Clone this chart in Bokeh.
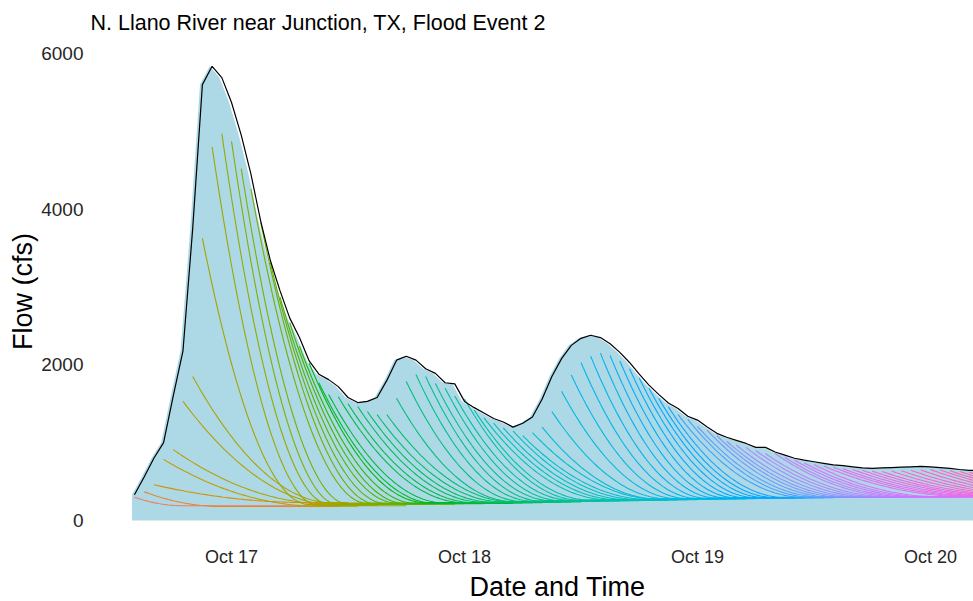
import numpy as np
import pandas as pd
from bokeh.plotting import figure
from bokeh.models import Range1d, FixedTicker, DatetimeTickFormatter, Title
from bokeh.embed import file_html
from bokeh.resources import INLINE

# ---------------------------------------------------------------------------
# Hourly observations, N. Llano River near Junction, TX (first value at 14:00)
# ---------------------------------------------------------------------------
series_start = "2018-10-16 14:00"

flow_cfs = [
    330, 560, 800, 1000, 1600, 2180, 3750, 5600, 5835, 5690,
    5370, 4950, 4450, 3850, 3340, 2950, 2600, 2350, 2050, 1880,
    1810, 1720, 1580, 1515, 1530, 1580, 1800, 2060, 2110, 2060,
    1950, 1890, 1770, 1755, 1530, 1450, 1380, 1310, 1265, 1200,
    1250, 1330, 1560, 1850, 2080, 2250, 2340, 2380, 2350, 2270,
    2160, 2030, 1880, 1740, 1620, 1510, 1440, 1340, 1290, 1200,
    1120, 1070, 1030, 990, 940, 940, 880, 840, 800, 775,
    755, 735, 715, 705, 690, 675, 670, 675, 680, 685,
    690, 695, 690, 680, 670, 655, 645, 640,
]

# Recession curves, one per hour: value at the first point of each curve
recession_start_cfs = [
    300, 370, 460, 785, 910, 1530, 1850, 3625, 4800, 4970,
    4870, 4520, 4260, 3830, 3310, 2870, 2540, 2240, 2020, 1770,
    1620, 1590, 1500, 1465, 1400, 1360, 1360, 1570, 1785, 1875,
    1850, 1760, 1700, 1600, 1560, 1420, 1320, 1250, 1190, 1150,
    1090, 1130, 1200, 1400, 1660, 1870, 2030, 2110, 2150, 2120,
    2050, 1950, 1830, 1700, 1570, 1460, 1360, 1300, 1210, 1160,
    1090, 1020, 970, 940, 900, 860, 860, 810, 775, 740,
    720, 700, 685, 665, 655, 645, 635, 630, 635, 640,
    645, 650, 655, 650, 640, 630, 620, 610,
]

# Level each recession curve settles on (baseflow)
recession_base_cfs = [
    190, 180, 230, 185, 215, 195, 225, 205, 190, 215,
    205, 210, 220, 210, 215, 225, 215, 220, 230, 220,
    225, 230, 230, 235, 235, 240, 240, 245, 245, 250,
    250, 255, 255, 260, 260, 262, 264, 266, 268, 270,
    272, 274, 276, 278, 280, 282, 284, 286, 288, 290,
    292, 293, 294, 295, 296, 297, 298, 299, 300, 300,
    301, 301, 302, 302, 303, 303, 304, 304, 305, 305,
    306, 307, 308, 309, 310, 311, 312, 313, 314, 315,
    316, 317, 318, 319, 320, 321, 322, 323,
]

# Hours each recession curve takes to fall to its baseflow
recession_span_h = [
    5, 8, 16, 16, 16, 16, 14.5, 11, 11, 11,
    11, 11, 12, 12, 12, 12, 12, 12, 12, 12,
    12, 13, 13, 13, 13, 13, 13, 12, 12, 12,
    12, 12, 12, 12, 12, 12, 13, 13, 13, 13,
    13, 13, 12, 12, 12, 12, 12, 12, 12, 12,
    12, 12, 12, 12, 12, 12, 13, 13, 13, 13,
    13, 13, 13, 13, 13, 13, 13, 13, 13, 13,
    13, 15, 15, 15, 15, 15, 15, 15, 15, 15,
    15, 15, 15, 15, 15, 15, 15, 15,
]

recession_length_h = 20          # every curve is drawn for 20 hours
date_ticks = ["2018-10-17", "2018-10-18", "2018-10-19", "2018-10-20"]
flow_ticks = [0, 2000, 4000, 6000]
x_limits = ["2018-10-16 09:16", "2018-10-20 04:26"]
y_limits = [-244, 6128]

# ---------------------------------------------------------------------------
HOUR_MS = 3600 * 1000.0


def to_ms(stamp):
    return pd.Timestamp(stamp).value / 1e6


def hcl_to_hex(h, c=100.0, l=65.0):
    """Polar-LUV colour (as used by ggplot's hue palette) to an sRGB hex."""
    hr = np.deg2rad(h)
    U, V = c * np.cos(hr), c * np.sin(hr)
    Xn, Yn, Zn = 95.047, 100.0, 108.883
    den = Xn + 15 * Yn + 3 * Zn
    un, vn = 4 * Xn / den, 9 * Yn / den
    Y = Yn * ((l + 16) / 116) ** 3
    u = U / (13 * l) + un
    v = V / (13 * l) + vn
    X = 9.0 * Y * u / (4 * v)
    Z = -X / 3 - 5 * Y + 3 * Y / v
    X, Y, Z = X / 100, Y / 100, Z / 100
    rgb = [
        3.240479 * X - 1.537150 * Y - 0.498535 * Z,
        -0.969256 * X + 1.875992 * Y + 0.041556 * Z,
        0.055648 * X - 0.204043 * Y + 1.057311 * Z,
    ]
    out = []
    for ch in rgb:
        ch = 12.92 * ch if ch <= 0.0031308 else 1.055 * ch ** (1 / 2.4) - 0.055
        out.append(int(round(min(max(ch, 0.0), 1.0) * 255)))
    return "#%02x%02x%02x" % tuple(out)


t0 = to_ms(series_start)
obs_x = t0 + np.arange(len(flow_cfs)) * HOUR_MS

# hue ramps through the event, red-orange -> green -> blue -> pink
hue_hours = [0, 1, 2, 3, 4, 7, 10, 20, 30, 48, 58, 67, 79, 87]
hue_deg = [20, 35, 55, 68, 75, 85, 100, 135, 165, 228, 255, 285, 330, 345]

xs, ys, colors = [], [], []
tau = np.arange(0, recession_length_h + 1e-9, 0.25)
for i, (q0, qb, span) in enumerate(zip(recession_start_cfs, recession_base_cfs, recession_span_h)):
    frac = np.clip(1.0 - tau / span, 0.0, None)
    xs.append(list(t0 + (i + tau) * HOUR_MS))
    ys.append(list(qb + (q0 - qb) * frac ** 2))
    colors.append(hcl_to_hex(float(np.interp(i, hue_hours, hue_deg))))

p = figure(
    width=973, height=601,
    x_axis_type="datetime",
    x_range=Range1d(to_ms(x_limits[0]), to_ms(x_limits[1])),
    y_range=Range1d(*y_limits),
    output_backend="svg", toolbar_location=None,
    min_border_left=88, min_border_right=0,
    min_border_top=42, min_border_bottom=10,
)

# flow envelope, recession curves, observed hydrograph
p.varea(x=obs_x - 0.25 * HOUR_MS, y1=np.zeros(len(flow_cfs)), y2=flow_cfs,
        fill_color="#ADD8E6")
p.multi_line(xs=xs, ys=ys, line_color=colors, line_width=1.1)
p.line(obs_x, flow_cfs, line_color="black", line_width=1.2)

FONT = "Liberation Sans"

p.title.text = "N. Llano River near Junction, TX, Flood Event 2"
p.title.text_font = FONT
p.title.text_font_size = "21.5px"
p.title.text_font_style = "normal"
p.title.text_color = "black"
p.title.align = "left"
p.title.offset = 2
p.title.standoff = 17

p.add_layout(Title(text="Flow (cfs)", align="center", text_font=FONT,
                   text_font_size="27px", text_font_style="normal",
                   text_color="black", standoff=2), "left")
p.add_layout(Title(text="Date and Time", align="left", offset=381,
                   text_font=FONT, text_font_size="27px",
                   text_font_style="normal", text_color="black",
                   standoff=0), "below")

p.xaxis.ticker = FixedTicker(ticks=[to_ms(d) for d in date_ticks])
p.xaxis.formatter = DatetimeTickFormatter(
    days="%b %d", months="%b %d", hours="%b %d", years="%b %d")
p.yaxis.ticker = FixedTicker(ticks=flow_ticks)

for ax in (p.xaxis[0], p.yaxis[0]):
    ax.axis_line_color = None
    ax.major_tick_line_color = None
    ax.minor_tick_line_color = None
    ax.major_tick_out = 0
    ax.major_tick_in = 0
    ax.minor_tick_out = 0
    ax.minor_tick_in = 0
    ax.axis_label_standoff = 0
    ax.major_label_text_font = FONT
    ax.major_label_text_color = "#262626"
p.xaxis.major_label_text_font_size = "18px"
p.yaxis.major_label_text_font_size = "19px"
p.xaxis.major_label_standoff = 7
p.yaxis.major_label_standoff = 5

p.grid.grid_line_color = None
p.outline_line_color = None
p.background_fill_color = "white"
p.border_fill_color = "white"

open("out.html", "w").write(file_html(p, INLINE))
